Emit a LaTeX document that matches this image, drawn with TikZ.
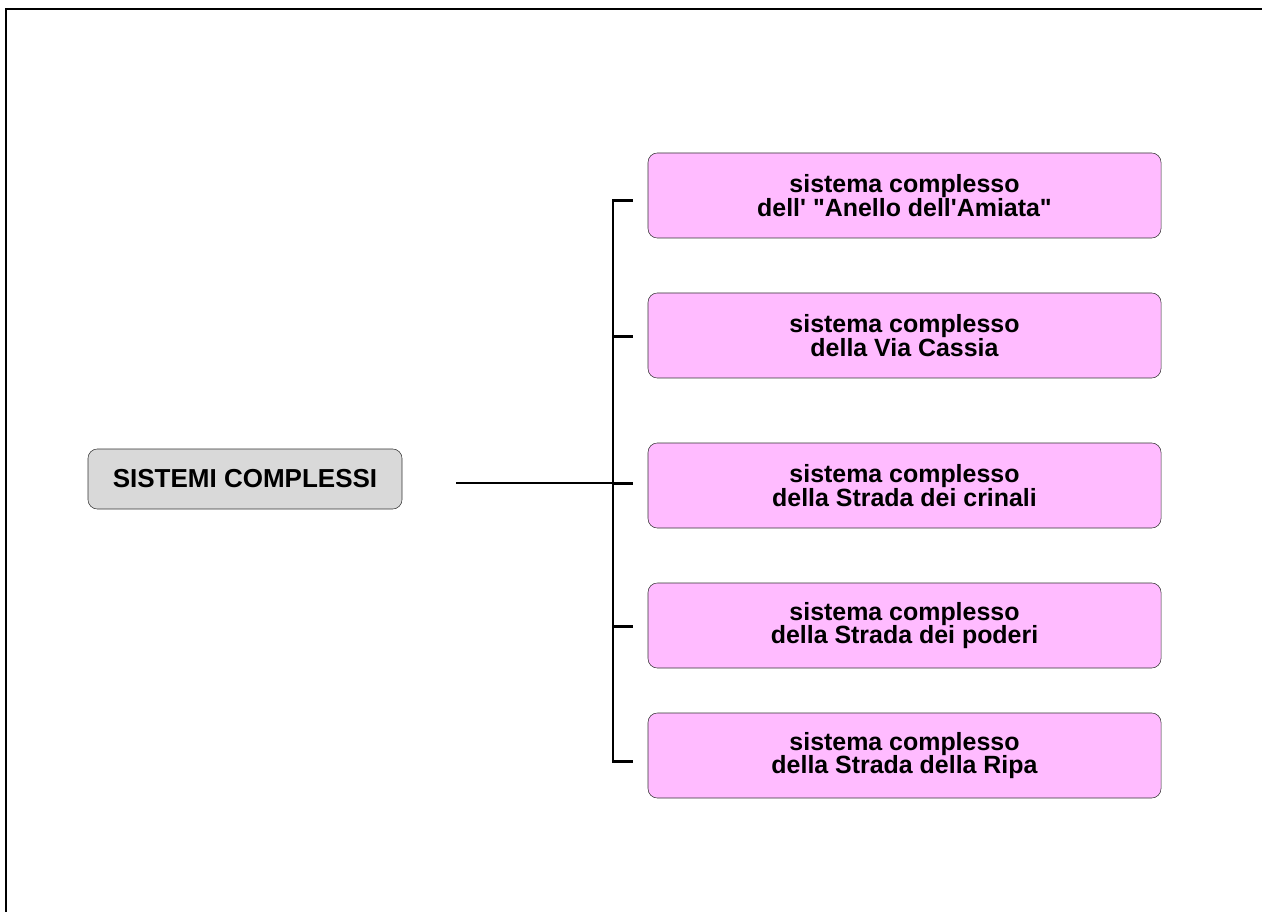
\documentclass[tikz,border=0pt]{standalone}
\usepackage{fontspec}
\setmainfont{Liberation Sans}[Ligatures=TeXOff]
\usetikzlibrary{positioning}
\definecolor{SysPink}{HTML}{FFBBFF}
\definecolor{SysGray}{HTML}{D9D9D9}
\definecolor{SysEdge}{HTML}{333333}

\begin{document}
\begin{tikzpicture}[
    x=0.75pt,y=-0.75pt,
    root/.style={draw=SysEdge,rounded corners=7pt,fill=SysGray,
      minimum width=235.5pt,minimum height=45pt,align=center,
      font=\fontsize{19.5}{22}\selectfont\bfseries},
    subsys/.style={draw=SysEdge,rounded corners=7pt,fill=SysPink,
      minimum width=384.75pt,minimum height=63.75pt,align=center,
      font=\fontsize{18.7}{17.5}\selectfont\bfseries},
    link/.style={line width=2.2pt,draw=black}
  ]
    \useasboundingbox (0,0) rectangle (1262,912);
    \draw[line width=1.6pt] (6,912) -- (6,9) -- (1262,9);
    \node[root] (root) at (245,479) {SISTEMI COMPLESSI};
    \node[subsys] (amiata) at (904.5,195.5) {sistema complesso\\dell' "Anello dell'Amiata"};
    \node[subsys] (cassia) at (904.5,335.5) {sistema complesso\\della Via Cassia};
    \node[subsys] (crinali) at (904.5,485.5) {sistema complesso\\della Strada dei crinali};
    \node[subsys] (poderi) at (904.5,625.5) {sistema complesso\\della Strada dei poderi};
    \node[subsys] (ripa) at (904.5,755.5) {sistema complesso\\della Strada della Ripa};
    \coordinate (hub) at (613,483);
    \draw[link] ([xshift=40.5pt]root.east |- hub) -- (hub);
    \draw[link] (hub) |- ([xshift=-11.25pt,yshift=-4pt]amiata.west);
    \draw[link] (hub) |- ([xshift=-11.25pt,yshift=-1pt]cassia.west);
    \draw[link] (hub) |- ([xshift=-11.25pt,yshift=1.5pt]crinali.west);
    \draw[link] (hub) |- ([xshift=-11.25pt,yshift=-1pt]poderi.west);
    \draw[link] (hub) |- ([xshift=-11.25pt,yshift=-4.5pt]ripa.west);
  \end{tikzpicture}
\end{document}
